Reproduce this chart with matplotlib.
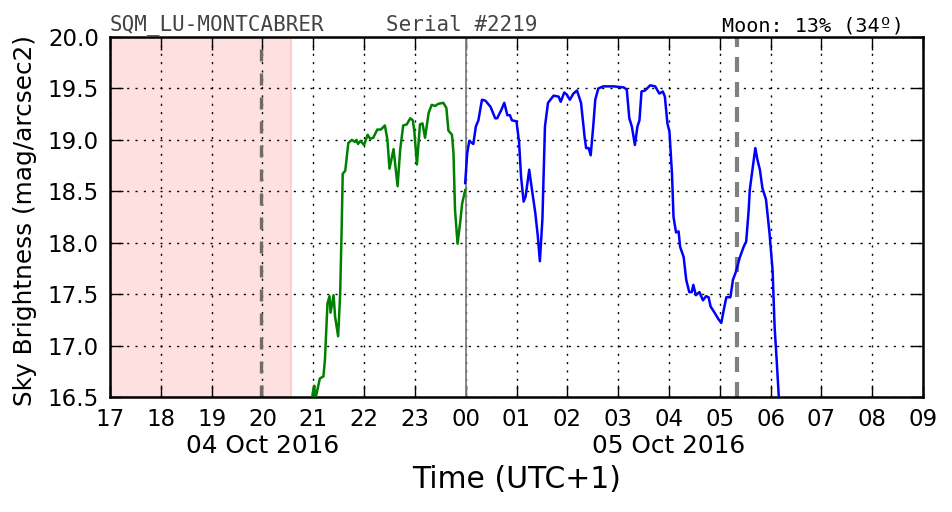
import matplotlib
matplotlib.use("Agg")
import matplotlib.pyplot as plt
import matplotlib.transforms as mtransforms
from matplotlib.ticker import FuncFormatter, MultipleLocator

# decimal hours since 00:00 of 04 Oct 2016 (UTC+1)
green_t = [20.97, 20.99, 21.02, 21.04, 21.06, 21.13, 21.20, 21.23, 21.28, 21.32, 21.34,
           21.40, 21.43, 21.49, 21.53, 21.56, 21.58, 21.63, 21.69, 21.76, 21.82, 21.85,
           21.88, 21.93, 22.00, 22.07, 22.12, 22.18, 22.26, 22.33, 22.41, 22.46, 22.50,
           22.58, 22.66, 22.71, 22.77, 22.84, 22.91, 22.96, 22.99, 23.04, 23.10, 23.15,
           23.20, 23.27, 23.33, 23.40, 23.46, 23.56, 23.62, 23.66, 23.73, 23.76, 23.79,
           23.84, 23.89, 23.93, 23.99]
green_m = [16.45, 16.54, 16.61, 16.50, 16.52, 16.68, 16.70, 16.86, 17.41, 17.48, 17.32,
           17.49, 17.28, 17.09, 17.51, 18.16, 18.67, 18.70, 18.97, 19.00, 18.98, 19.00,
           18.96, 18.99, 18.95, 19.05, 19.01, 19.02, 19.10, 19.10, 19.14, 19.00, 18.72,
           18.91, 18.55, 18.90, 19.14, 19.15, 19.21, 19.19, 19.08, 18.76, 19.15, 19.16,
           19.02, 19.26, 19.34, 19.33, 19.35, 19.36, 19.31, 19.09, 19.05, 18.87, 18.32,
           17.99, 18.19, 18.38, 18.51]

blue_t = [23.99, 24.03, 24.07, 24.15, 24.20, 24.25, 24.32, 24.39, 24.49, 24.58, 24.62,
          24.70, 24.76, 24.82, 24.87, 24.91, 25.00, 25.05, 25.09, 25.14, 25.18, 25.25,
          25.30, 25.37, 25.42, 25.46, 25.51, 25.56, 25.62, 25.73, 25.83, 25.87, 25.94,
          25.99, 26.05, 26.12, 26.19, 26.27, 26.34, 26.37, 26.42, 26.46, 26.51, 26.55,
          26.61, 26.71, 26.91, 27.11, 27.17, 27.22, 27.27, 27.33, 27.38, 27.42, 27.46,
          27.53, 27.63, 27.73, 27.81, 27.88, 27.92, 27.97, 28.01, 28.06, 28.09, 28.14,
          28.19, 28.22, 28.29, 28.34, 28.40, 28.45, 28.48, 28.53, 28.60, 28.67, 28.73,
          28.78, 28.82, 28.91, 28.97, 29.03, 29.08, 29.13, 29.21, 29.26, 29.32, 29.39,
          29.47, 29.52, 29.57, 29.59, 29.63, 29.70, 29.74, 29.79, 29.84, 29.91, 29.98,
          30.04, 30.08, 30.12, 30.16, 30.19]
blue_m = [18.58, 18.87, 18.99, 18.96, 19.13, 19.19, 19.39, 19.38, 19.32, 19.21, 19.21,
          19.29, 19.36, 19.24, 19.24, 19.19, 19.18, 18.98, 18.64, 18.40, 18.45, 18.71,
          18.53, 18.29, 18.06, 17.82, 18.23, 19.13, 19.36, 19.43, 19.42, 19.37, 19.46,
          19.44, 19.39, 19.45, 19.48, 19.36, 19.03, 18.92, 18.92, 18.85, 19.13, 19.39,
          19.50, 19.52, 19.52, 19.51, 19.49, 19.21, 19.13, 18.95, 19.13, 19.19, 19.47,
          19.48, 19.53, 19.52, 19.45, 19.47, 19.42, 19.16, 19.08, 18.67, 18.25, 18.10,
          18.11, 17.96, 17.86, 17.64, 17.52, 17.52, 17.59, 17.49, 17.52, 17.44, 17.48,
          17.47, 17.38, 17.31, 17.26, 17.22, 17.35, 17.47, 17.47, 17.64, 17.72, 17.85,
          17.96, 18.01, 18.32, 18.51, 18.66, 18.92, 18.81, 18.71, 18.53, 18.42, 18.09,
          17.73, 17.18, 16.86, 16.52, 16.40]

x_range = (17, 33)
y_range = (16.5, 20.0)
day_span = (17, 20.56)
sunset = 19.97
midnight = 24
moon_line = 29.34
date_labels = [(20, "04 Oct 2016"), (28, "05 Oct 2016")]

fig = plt.figure(figsize=(9.52, 5.12), dpi=100)
ax = fig.add_axes([110 / 952, 1 - 397 / 512, 813 / 952, 360 / 512])

ax.axvspan(day_span[0], day_span[1], facecolor="#ffe0e0", edgecolor="#ffc8c8", lw=1.2, zorder=0)
ax.grid(True, color="black", linestyle=(0, (1.5, 4.5)), linewidth=1.0, zorder=1)
ax.axvline(sunset, color="#726a6a", lw=2.4, ls=(0, (3.6, 3.6)), zorder=2)
ax.axvline(midnight, color="gray", lw=1.3, zorder=2)
ax.axvline(moon_line, color="gray", lw=3.0, ls=(0, (3.6, 2.4)), zorder=2)

ax.plot(green_t, green_m, color="green", lw=1.8, zorder=3)
ax.plot(blue_t, blue_m, color="blue", lw=1.8, zorder=3)

ax.set_xlim(*x_range)
ax.set_ylim(*y_range)
ax.xaxis.set_major_locator(MultipleLocator(1))
ax.yaxis.set_major_locator(MultipleLocator(0.5))
ax.xaxis.set_major_formatter(FuncFormatter(lambda v, p: "%02d" % (int(round(v)) % 24)))
ax.yaxis.set_major_formatter(FuncFormatter(lambda v, p: "%.1f" % v))
ax.tick_params(direction="in", length=9, width=1, labelsize=16.5, top=True, right=True, pad=8)
for s in ax.spines.values():
    s.set_linewidth(1.8)

trans = mtransforms.blended_transform_factory(ax.transData, ax.transAxes)
for xpos, lab in date_labels:
    ax.text(xpos, -0.135, lab, transform=trans, ha="center", va="center", fontsize=17.8)

ax.set_xlabel("Time (UTC+1)", fontsize=21.5)
ax.xaxis.set_label_coords(0.5, -0.19)
ax.set_ylabel("Sky Brightness (mag/arcsec2)", fontsize=17.8)
ax.yaxis.set_label_coords(-0.09, 0.49)

ax.text(0.0, 1.005, "SQM_LU-MONTCABRER", transform=ax.transAxes, ha="left", va="bottom",
        family="DejaVu Sans Mono", fontsize=15, color="#444444")
ax.text(0.3395, 1.005, "Serial #2219", transform=ax.transAxes, ha="left", va="bottom",
        family="DejaVu Sans Mono", fontsize=15, color="#444444")
ax.text(0.753, 1.005, "Moon: 13% (34º)", transform=ax.transAxes, ha="left", va="bottom",
        family="DejaVu Sans Mono", fontsize=14.5, color="black")

fig.savefig("out.png", dpi=100)
